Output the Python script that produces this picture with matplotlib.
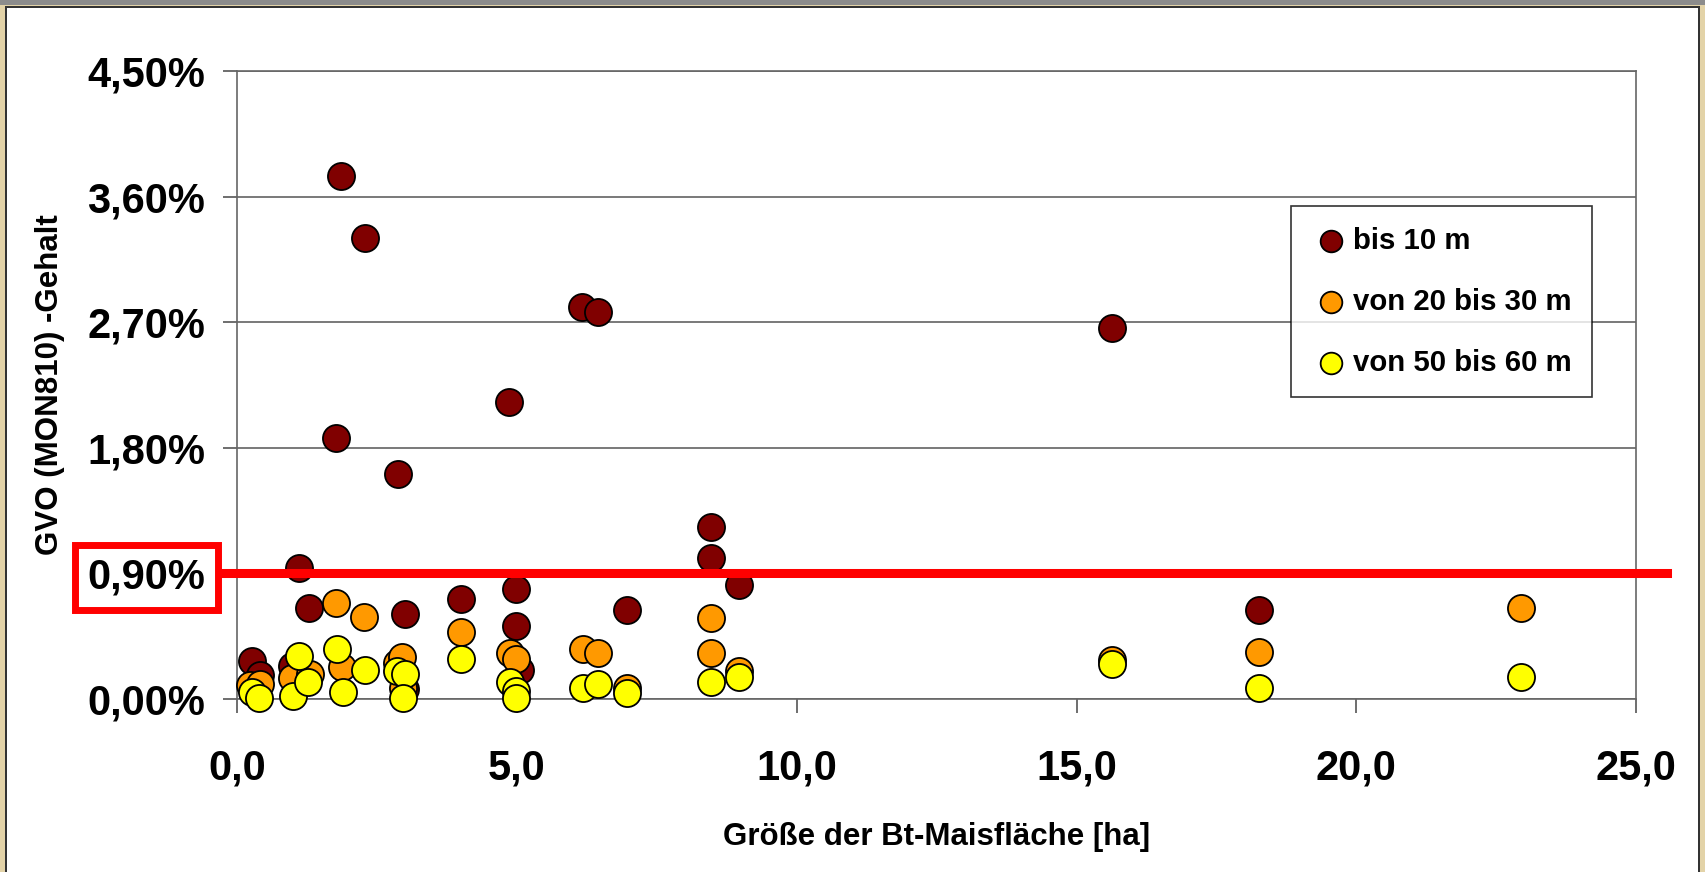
import matplotlib
matplotlib.use("Agg")
import matplotlib.pyplot as plt
from matplotlib.ticker import FuncFormatter, MultipleLocator
from matplotlib.patches import Rectangle
import matplotlib.transforms as mtransforms

plt.rcParams['font.family'] = ['Liberation Sans', 'DejaVu Sans']
plt.rcParams['font.weight'] = 'bold'

# bis 10 m
x_10 = [0.27, 0.41, 0.97, 1.10, 1.28, 1.77, 1.86, 2.29, 2.87, 2.99, 2.99, 4.00,
        4.86, 4.99, 4.99, 5.05, 6.16, 6.45, 6.96, 8.46, 8.46, 8.96, 15.64, 18.26]
y_10 = [0.27, 0.17, 0.24, 0.94, 0.65, 1.87, 3.75, 3.30, 1.61, 0.61, 0.07, 0.72,
        2.13, 0.79, 0.52, 0.21, 2.81, 2.77, 0.64, 1.23, 1.01, 0.82, 2.66, 0.64]

# von 20 bis 30 m
x_30 = [0.23, 0.41, 0.97, 1.30, 1.77, 1.87, 2.27, 2.85, 2.94, 2.97, 4.00, 4.87,
        4.99, 6.18, 6.45, 6.96, 8.46, 8.46, 8.96, 15.64, 18.26, 22.94]
y_30 = [0.10, 0.11, 0.15, 0.18, 0.69, 0.23, 0.59, 0.26, 0.30, 0.08, 0.48, 0.33,
        0.29, 0.36, 0.33, 0.08, 0.58, 0.33, 0.20, 0.28, 0.335, 0.65]

# von 50 bis 60 m
x_60 = [0.26, 0.39, 0.99, 1.10, 1.27, 1.78, 1.88, 2.28, 2.85, 3.00, 2.97, 4.00,
        4.87, 4.99, 4.99, 6.18, 6.45, 6.96, 8.46, 8.96, 15.64, 18.26, 22.94]
y_60 = [0.05, 0.01, 0.02, 0.31, 0.12, 0.36, 0.05, 0.21, 0.20, 0.18, 0.005, 0.29,
        0.12, 0.06, 0.005, 0.08, 0.105, 0.04, 0.12, 0.16, 0.25, 0.08, 0.16]

labels = ['bis 10 m', 'von 20 bis 30 m', 'von 50 bis 60 m']
colors = ['#800000', '#FF9900', '#FFFF00']
threshold = 0.90

fig = plt.figure(figsize=(17.05, 8.72), dpi=100)
fig.patch.set_facecolor('white')
ax = fig.add_axes([0.1392, 0.1984, 0.8203, 0.7202])

# frame around the picture
W, H = 1705, 872
def px(x0, y0, w, h, c):
    fig.patches.append(Rectangle((x0 / W, 1 - (y0 + h) / H), w / W, h / H,
                                 transform=fig.transFigure, color=c, lw=0, zorder=-5))
px(0, 0, 6, H, '#E3D3A8')
px(1700, 0, 5, H, '#E3D3A8')
px(0, 0, W, 5, '#8C8C8C')
px(0, 5, W, 2, '#E3D3A8')
px(5, 7, 2, H, '#333333')
px(1698, 7, 2, H, '#333333')
px(5, 6, 1695, 2, '#333333')

for xs, ys, c, lab in zip([x_10, x_30, x_60], [y_10, y_30, y_60], colors, labels):
    ax.scatter(xs, ys, s=380, c=c, edgecolors='black', linewidths=1.3,
               label=lab, zorder=3, clip_on=False)

ax.set_xlim(0, 25)
ax.set_ylim(0, 4.5)
ax.xaxis.set_major_locator(MultipleLocator(5))
ax.yaxis.set_major_locator(MultipleLocator(0.9))
ax.xaxis.set_major_formatter(FuncFormatter(lambda v, p: f"{v:.1f}".replace('.', ',')))
ax.yaxis.set_major_formatter(FuncFormatter(lambda v, p: f"{v:.2f}%".replace('.', ',')))
ax.tick_params(axis='y', labelsize=30, length=10, width=1.2, color='#555555', pad=13)
ax.tick_params(axis='x', labelsize=30, length=10, width=1.2, color='#555555', pad=26)
ax.grid(axis='y', color='#555555', lw=1.1)
ax.set_axisbelow(True)
for s in ax.spines.values():
    s.set_color('#666666')
    s.set_linewidth(1.2)

ax.set_xlabel('Größe der Bt-Maisfläche [ha]', fontsize=22.5, fontweight='bold', labelpad=24)
ax.set_ylabel('GVO (MON810) -Gehalt', fontsize=22.5, fontweight='bold', labelpad=16)

# threshold line and red box round the 0,90% label
trans = mtransforms.blended_transform_factory(ax.transAxes, ax.transData)
ax.plot([-0.0117, 1.022], [threshold, threshold], color='red', lw=6.5,
        transform=trans, clip_on=False, zorder=4)
fig.canvas.draw()
for t in ax.get_yticklabels():
    if t.get_text() == '0,90%':
        t.set_bbox(dict(facecolor='none', edgecolor='red', linewidth=5,
                        boxstyle='square,pad=0.3'))

leg = ax.legend(loc='upper left', bbox_to_anchor=(1291 / W, 1 - 206 / H),
                bbox_transform=fig.transFigure, fontsize=21.2, frameon=True,
                fancybox=False, edgecolor='black', markerscale=0.8,
                borderpad=0.7, handlelength=1.3, handletextpad=0.1,
                labelspacing=1.12, scatterpoints=1, borderaxespad=0)
leg.get_frame().set_linewidth(1.2)

fig.savefig('out.png', dpi=100, facecolor=fig.get_facecolor())
